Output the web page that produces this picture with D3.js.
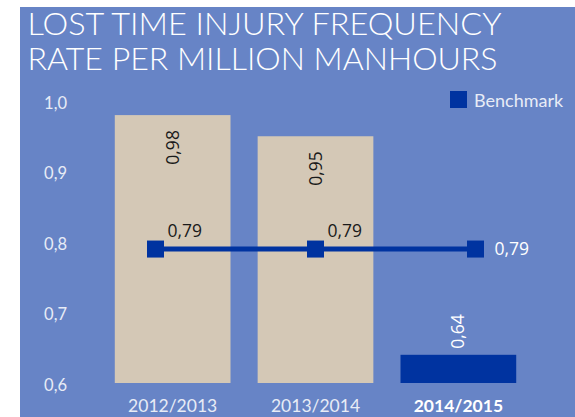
<!DOCTYPE html>
<html>
<head>
<meta charset="utf-8">
<script src="https://cdn.jsdelivr.net/npm/d3@7/dist/d3.min.js"></script>
<style>
  html, body { margin: 0; padding: 0; background: #ffffff; }
  svg { display: block; }
</style>
</head>
<body>
<svg id="chart" width="575" height="417"></svg>
<script>
// LTIFR per year, with the industry benchmark
const years = ["2012/2013", "2013/2014", "2014/2015"];
const ltifr = [0.98, 0.95, 0.64];
const benchmark = [0.79, 0.79, 0.79];
const yTicks = [0.6, 0.7, 0.8, 0.9, 1.0];
const titleLines = ["LOST TIME INJURY FREQUENCY", "RATE PER MILLION MANHOURS"];
const legendLabel = "Benchmark";

const W = 575, H = 417;
const BG = "#6784c6", TAN = "#d4c8b6", NAVY = "#0033a0", LIGHT = "#e8ecf6";
const fmt = v => d3.format(".2f")(v).replace(".", ",");
const fmtTick = v => d3.format(".1f")(v).replace(".", ",");

const svg = d3.select("#chart");

// panel
svg.append("rect").attr("x", 20).attr("y", 7).attr("width", W - 20).attr("height", H - 7).attr("fill", BG);

// title
svg.append("g").selectAll("text").data(titleLines).join("text")
  .attr("x", 27.5).attr("y", (d, i) => 35 + i * 35)
  .attr("font-family", "Lato, 'Open Sans', sans-serif")
  .attr("font-weight", 300)
  .attr("font-size", 30.5).attr("fill", "#ffffff")
  .attr("textLength", (d, i) => i === 0 ? 474 : 470)
  .attr("lengthAdjust", "spacingAndGlyphs")
  .text(d => d);

// scales
const y = d3.scaleLinear().domain([0.6, 1.0]).range([383, 101]);
const x = d3.scaleBand().domain(years).range([100.5, 530.5]).paddingInner(0.19).paddingOuter(0.1);
const xLine = d3.scalePoint().domain(years).range([155.5, 475.5]);

// y axis labels
const yAxis = d3.axisLeft(y).tickValues(yTicks).tickFormat(fmtTick).tickSize(0).tickPadding(0);
const gy = svg.append("g").attr("transform", "translate(67,2)").call(yAxis);
gy.select(".domain").remove();
gy.selectAll("text").attr("fill", LIGHT).attr("font-size", 16.5)
  .attr("font-family", "Lato, 'Open Sans', sans-serif");

// bars
const last = years.length - 1;
svg.append("g").selectAll("rect").data(years).join("rect")
  .attr("x", d => x(d)).attr("width", x.bandwidth())
  .attr("y", (d, i) => y(ltifr[i]))
  .attr("height", (d, i) => y(0.6) - y(ltifr[i]))
  .attr("fill", (d, i) => i === last ? NAVY : TAN);

// bar value labels (rotated)
svg.append("g").selectAll("text").data(years).join("text")
  .attr("transform", (d, i) => {
    const cx = x(d) + x.bandwidth() / 2 + 6;
    const ty = i === last ? y(ltifr[i]) - 6 : y(ltifr[i]) + 15;
    return `translate(${cx},${ty}) rotate(-90)`;
  })
  .attr("text-anchor", (d, i) => i === last ? "start" : "end")
  .attr("font-family", "'Open Sans', sans-serif").attr("font-size", 17.5)
  .attr("fill", (d, i) => i === last ? "#ffffff" : "#1a1a1a")
  .text((d, i) => fmt(ltifr[i]));

// benchmark line
const line = d3.line().x((d, i) => xLine(years[i])).y(d => y(d));
svg.append("path").datum(benchmark).attr("d", line)
  .attr("fill", "none").attr("stroke", NAVY).attr("stroke-width", 5);
svg.append("g").selectAll("rect").data(benchmark).join("rect")
  .attr("x", (d, i) => xLine(years[i]) - 8.5).attr("y", d => y(d) - 8.5)
  .attr("width", 17).attr("height", 17).attr("fill", NAVY);
svg.append("g").selectAll("text").data(benchmark).join("text")
  .attr("x", (d, i) => xLine(years[i]) + (i === last ? 19 : 12))
  .attr("y", (d, i) => i === last ? y(d) + 6 : y(d) - 12)
  .attr("font-family", "'Open Sans', sans-serif").attr("font-size", 17.5)
  .attr("fill", (d, i) => i === last ? "#ffffff" : "#1a1a1a")
  .text(d => fmt(d));

// x axis labels
const xAxis = d3.axisBottom(x).tickSize(0).tickPadding(0);
const gx = svg.append("g").attr("transform", "translate(0,400)").call(xAxis);
gx.select(".domain").remove();
gx.selectAll("text")
  .attr("font-family", "Lato, 'Open Sans', sans-serif").attr("font-size", 17.5)
  .attr("fill", (d, i) => i === last ? "#ffffff" : LIGHT)
  .attr("font-weight", (d, i) => i === last ? "bold" : "normal");

// legend
const lg = svg.append("g").attr("transform", "translate(450,91)");
lg.append("rect").attr("width", 17).attr("height", 17).attr("fill", NAVY);
lg.append("text").attr("x", 24).attr("y", 16)
  .attr("font-family", "Lato, 'Open Sans', sans-serif").attr("font-size", 18)
  .attr("fill", LIGHT).text(legendLabel);
</script>
</body>
</html>
